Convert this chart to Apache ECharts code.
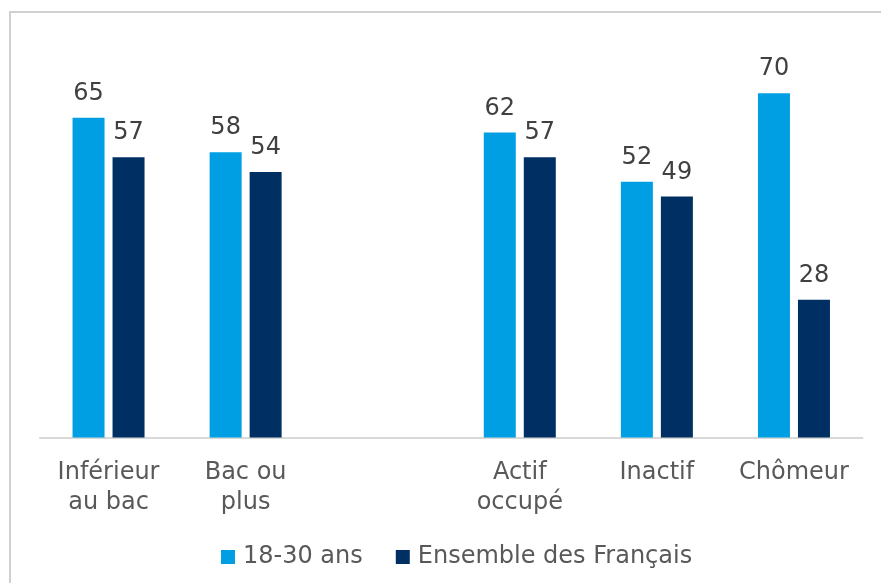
<!DOCTYPE html>
<html><head><meta charset="utf-8">
<script src="https://cdn.jsdelivr.net/npm/echarts@6/dist/echarts.min.js"></script>
<style>html,body{margin:0;padding:0;background:#fff}#c{width:881px;height:583px}</style>
</head><body><div id="c"></div>
<script>
const categories = ["Inférieur\nau bac", "Bac ou\nplus", "", "Actif\noccupé", "Inactif", "Chômeur"];
const jeunes = [65, 58, null, 62, 52, 70];
const ensemble = [57, 54, null, 57, 49, 28];
const seriesNames = ["18-30 ans", "Ensemble des Français"];

const font = "'DejaVu Sans', sans-serif";
const txt = "#595959";
const chart = echarts.init(document.getElementById('c'), null, {renderer: 'canvas'});
chart.setOption({
  animation: false,
  backgroundColor: '#fff',
  graphic: [{type: 'rect', shape: {x: 10, y: 12, width: 900, height: 600},
    style: {fill: 'none', stroke: '#d0d0d0', lineWidth: 2}, z: -1}],
  grid: {left: 40, right: 18.5, top: 44, bottom: 145.5},
  legend: {
    top: 540, left: 216, itemWidth: 14, itemHeight: 14, itemGap: 33,
    icon: 'rect',
    textStyle: {color: txt, fontFamily: font, fontSize: 24, padding: [0, 0, 0, 3]},
    data: seriesNames
  },
  xAxis: {
    type: 'category', data: categories,
    axisLine: {lineStyle: {color: '#d9d9d9', width: 2}},
    axisTick: {show: false},
    axisLabel: {color: txt, fontFamily: font, fontSize: 24, lineHeight: 30, margin: 20, interval: 0}
  },
  yAxis: {type: 'value', min: 0, max: 80, show: false, splitLine: {show: false}},
  series: [
    {name: seriesNames[0], type: 'bar', data: jeunes, barWidth: 32, barGap: '25%',
     itemStyle: {color: '#009FE3'},
     label: {show: true, position: 'top', distance: 12, color: '#404040', fontFamily: font, fontSize: 24}},
    {name: seriesNames[1], type: 'bar', data: ensemble, barWidth: 32, barGap: '25%',
     itemStyle: {color: '#003063'},
     label: {show: true, position: 'top', distance: 12, color: '#404040', fontFamily: font, fontSize: 24}}
  ]
});
</script></body></html>
